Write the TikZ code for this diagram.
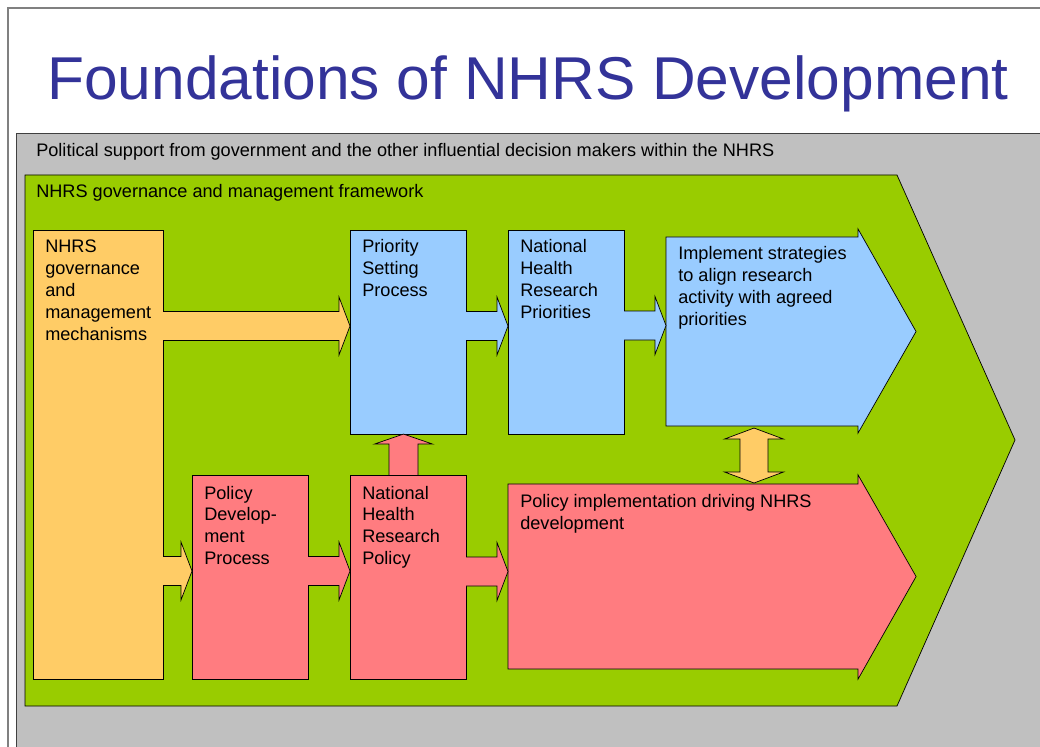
\documentclass[tikz,border=0pt]{standalone}
\usepackage{fontspec}
\setmainfont{Liberation Sans}
\usetikzlibrary{calc,positioning}

\definecolor{slidegray}{HTML}{C0C0C0}
\definecolor{framegreen}{HTML}{99CC00}
\definecolor{mechorange}{HTML}{FFCC66}
\definecolor{prioblue}{HTML}{99CCFF}
\definecolor{policyred}{HTML}{FF7C80}
\definecolor{titleblue}{HTML}{333399}

\tikzset{
  box/.style={draw=black, line width=0.5pt, anchor=north west, inner sep=0pt, outer sep=0pt},
  boxtext/.style={anchor=base west, inner sep=0pt, font=\fontsize{12.9}{15.6}\selectfont},
  blockarrow/.style={draw=black, line width=0.5pt, line join=miter},
}

% lines of text, baseline at the first line
\newcommand{\textlines}[1]{\vtop{\let\\\cr\halign{##\hfil\cr#1\crcr}}}

% horizontal block arrow: from, to, y shift, fill
\newcommand{\harrow}[4]{%
  \coordinate (t) at ($(#2.west)+(0,#3)$);
  \draw[blockarrow, fill=#4] ($(#1.east |- t)+(0,-14.5)$) -- ($(t)+(-11,-14.5)$) -- ($(t)+(-11,-29)$) -- (t)
    -- ($(t)+(-11,29)$) -- ($(t)+(-11,14.5)$) -- ($(#1.east |- t)+(0,14.5)$);
}
% vertical block arrow (upwards): from, to, x shift, fill
\newcommand{\varrow}[4]{%
  \coordinate (t) at ($(#2.south)+(#3,0)$);
  \draw[blockarrow, fill=#4] ($(#1.north -| t)+(-14.5,0)$) -- ($(t)+(-14.5,10)$) -- ($(t)+(-29,10)$) -- (t)
    -- ($(t)+(29,10)$) -- ($(t)+(14.5,10)$) -- ($(#1.north -| t)+(14.5,0)$);
}

\begin{document}
\begin{tikzpicture}[x=0.025cm,y=-0.025cm]
  \clip (0,0) rectangle (1040,747);
  \fill[white] (0,0) rectangle (1040,747);

  % slide frame
  \draw[black!50, line width=0.8pt] (8,760) -- (8,8) -- (1050,8);

  % title
  \node[anchor=base, inner sep=0pt, text=titleblue, font=\fontsize{43}{50}\selectfont] (title) at (528,100) {Foundations of NHRS Development};

  % political support
  \fill[slidegray] (16,133) rectangle (1050,760);
  \draw[black!75, line width=0.6pt] (16,760) -- (16,133) -- (1050,133);
  \node[boxtext] (political) at (36,157) {Political support from government and the other influential decision makers within the NHRS};

  % governance framework chevron
  \draw[fill=framegreen, line width=0.5pt] (25,175) -- (897,175) -- (1015,440) -- (897,706) -- (25,706) -- cycle;
  \node[boxtext] (framework) at (36,198) {NHRS governance and management framework};

  % boxes
  \node[box, fill=mechorange, minimum width=3.25cm, minimum height=11.225cm] (mech) at (33,230) {};
  \node[box, fill=prioblue, minimum width=2.9cm, minimum height=5.1cm] (setting) at (350,230) {};
  \node[box, fill=prioblue, minimum width=2.9cm, minimum height=5.1cm] (priorities) at (508,230) {};
  \node[box, fill=policyred, minimum width=2.9cm, minimum height=5.1cm] (devproc) at (192,475) {};
  \node[box, fill=policyred, minimum width=2.9cm, minimum height=5.1cm] (policy) at (350,475) {};

  % big arrows
  \node[box, draw=none, minimum width=4.8cm, minimum height=4.725cm] (strategies) at (666,237) {};
  \draw[blockarrow, fill=prioblue] (strategies.north west) -- (strategies.north east) -- ++(0,-8)
    -- ($(strategies.east)+(58,0)$) -- ($(strategies.south east)+(0,7)$) -- (strategies.south east)
    -- (strategies.south west) -- cycle;
  \node[box, draw=none, minimum width=8.75cm, minimum height=4.625cm] (implement) at (508,484) {};
  \draw[blockarrow, fill=policyred] (implement.north west) -- (implement.north east) -- ++(0,-9)
    -- ($(implement.east)+(58,0)$) -- ($(implement.south east)+(0,10)$) -- (implement.south east)
    -- (implement.south west) -- cycle;

  % texts
  \node[boxtext] at ($(mech.north west)+(12,23)$) {\textlines{NHRS\\governance\\and\\management\\mechanisms}};
  \node[boxtext] at ($(setting.north west)+(12,23)$) {\textlines{Priority\\Setting\\Process}};
  \node[boxtext] at ($(priorities.north west)+(12,23)$) {\textlines{National\\Health\\Research\\Priorities}};
  \node[boxtext] at ($(strategies.north west)+(12,23)$) {\textlines{Implement strategies\\to align research\\activity with agreed\\priorities}};
  \node[boxtext] at ($(devproc.north west)+(12,24)$) {\textlines{Policy\\Develop-\\ment\\Process}};
  \node[boxtext] at ($(policy.north west)+(12,24)$) {\textlines{National\\Health\\Research\\Policy}};
  \node[boxtext] at ($(implement.north west)+(12,24)$) {\textlines{Policy implementation driving NHRS\\development}};

  % connectors
  \harrow{mech}{setting}{-6}{mechorange}
  \harrow{setting}{priorities}{-6}{prioblue}
  \harrow{priorities}{strategies}{-6}{prioblue}
  \harrow{mech}{devproc}{-6}{mechorange}
  \harrow{devproc}{policy}{-6}{policyred}
  \harrow{policy}{implement}{-5}{policyred}
  \varrow{policy}{setting}{-4.5}{policyred}

  % double arrow
  \coordinate (dtop) at ($(strategies.south)+(-8,2)$);
  \coordinate (dbot) at ($(implement.north -| dtop)+(0,-1)$);
  \draw[blockarrow, fill=mechorange] (dtop) -- ($(dtop)+(29.5,11)$) -- ($(dtop)+(14,11)$) -- ($(dbot)+(14,-11)$)
    -- ($(dbot)+(29.5,-11)$) -- (dbot) -- ($(dbot)+(-29.5,-11)$) -- ($(dbot)+(-14,-11)$)
    -- ($(dtop)+(-14,11)$) -- ($(dtop)+(-29.5,11)$) -- cycle;
\end{tikzpicture}
\end{document}
